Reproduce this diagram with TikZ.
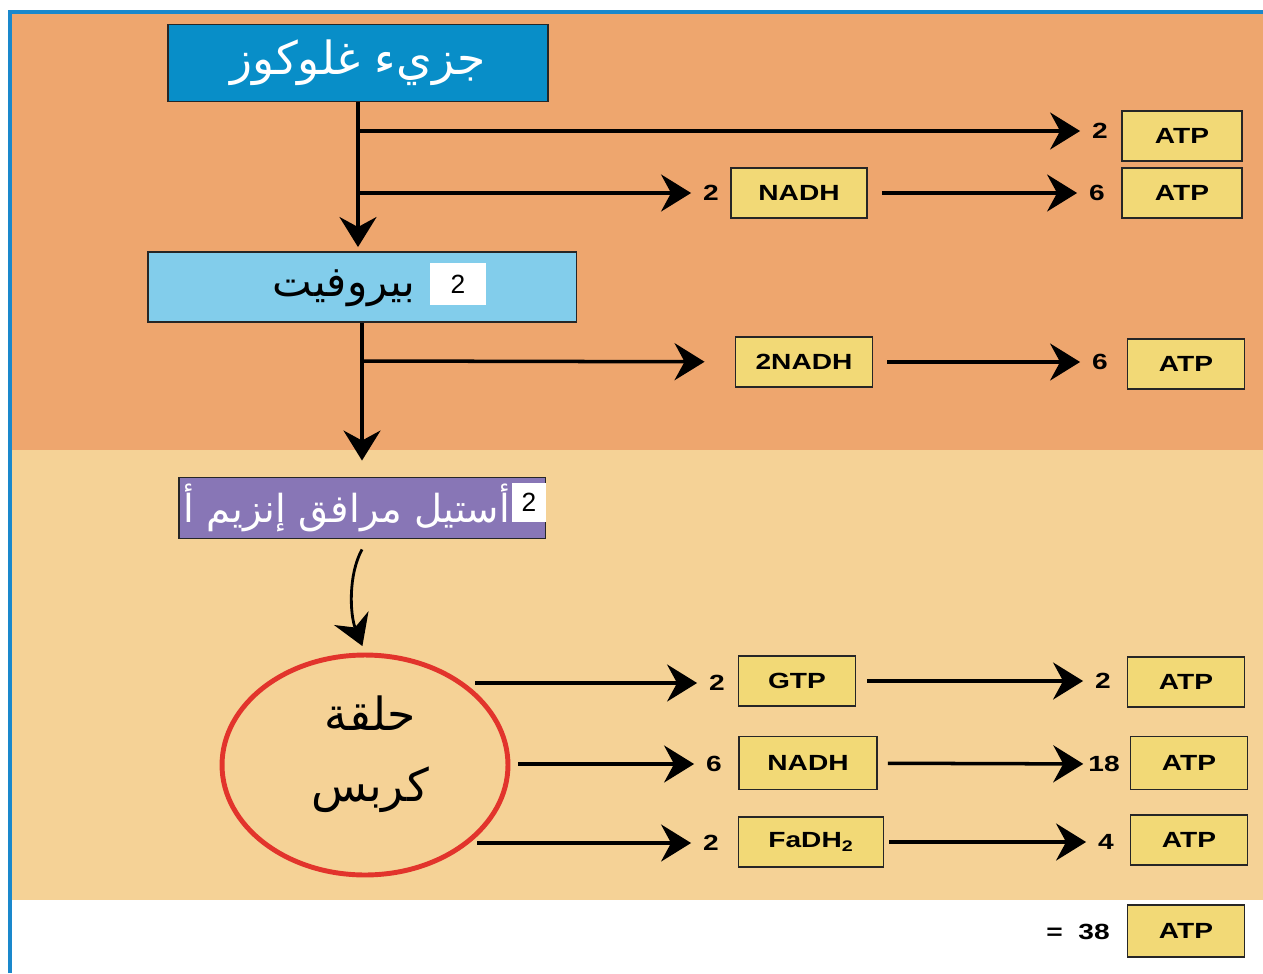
\documentclass[tikz,border=0pt]{standalone}
\usepackage{fontspec}
\setmainfont{Liberation Sans}
\newfontfamily\labelfont[FakeStretch=1.28]{Liberation Sans}
\newfontfamily\arabicfont[Script=Arabic]{DejaVu Sans}
\TeXXeTstate=1
\usetikzlibrary{arrows.meta,shapes.geometric}

\definecolor{frameblue}{RGB}{26,136,204}
\definecolor{bandorange}{RGB}{238,166,110}
\definecolor{bandcream}{RGB}{245,210,150}
\definecolor{glucoseblue}{RGB}{8,142,200}
\definecolor{pyrblue}{RGB}{130,205,235}
\definecolor{acetylviolet}{RGB}{136,118,182}
\definecolor{boxyellow}{RGB}{242,217,118}
\definecolor{krebsred}{RGB}{226,52,44}

\tikzset{
  yelbox/.style={draw=black!85, line width=1.1pt, fill=boxyellow, inner sep=0pt,
    minimum height=1cm, font=\labelfont\fontsize{12.5}{14}\selectfont\bfseries},
  num/.style={inner sep=1pt, font=\labelfont\fontsize{12.5}{14}\selectfont\bfseries},
  stage/.style={draw=black!85, line width=1.1pt, inner sep=0pt},
  flow/.style={line width=2pt, shorten >=0.2cm,
    -{Stealth[length=0.6cm, width=0.74cm, inset=0.2cm]}},
}

\begin{document}
\begin{tikzpicture}[x=0.02cm, y=-0.02cm]
  \useasboundingbox (0,0) rectangle (1263,973);
  \fill[white] (0,0) rectangle (1263,973);
  \fill[bandorange] (12,14) rectangle (1263,450);
  \fill[bandcream] (12,450) rectangle (1263,900);
  \draw[frameblue, line width=2.2pt] (10,973) -- (10,12) -- (1263,12);

  % stages
  \node[stage, fill=glucoseblue, minimum width=7.6cm, minimum height=1.54cm,
    text=white, font=\arabicfont\fontsize{26}{30}\selectfont] (glucose) at (358,63) {\beginR جزيء غلوكوز\endR};
  \node[stage, fill=pyrblue, minimum width=8.58cm, minimum height=1.4cm] (pyruvate) at (362,287) {};
  \node[font=\arabicfont\fontsize{24}{28}\selectfont] (pyruvateT) at (344,288) {\beginR بيروفيت\endR};
  \node[fill=white, minimum width=1.12cm, minimum height=0.84cm, font=\fontsize{15}{18}\selectfont] (pyruvateN) at (458,284) {2};
  \node[stage, fill=acetylviolet, minimum width=7.34cm, minimum height=1.22cm] (acetyl) at (362,508) {};
  \node[text=white, font=\arabicfont\fontsize{22}{26}\selectfont] (acetylT) at (347,508) {\beginR أستيل مرافق إنزيم أ\endR};
  \node[fill=white, minimum width=0.68cm, minimum height=0.78cm, font=\fontsize{15}{18}\selectfont] (acetylN) at (529,502) {2};
  \node[ellipse, draw=krebsred, line width=2.8pt, minimum width=5.72cm, minimum height=4.4cm] (krebs) at (365,765) {};
  \node[font=\arabicfont\fontsize{26}{30}\selectfont] (krebsA) at (370,713) {\beginR حلقة\endR};
  \node[font=\arabicfont\fontsize{26}{30}\selectfont] (krebsB) at (370,790) {\beginR كربس\endR};

  % main trunk
  \draw[flow, shorten >=0.08cm] (glucose.south) -- (glucose.south |- pyruvate.north);
  \draw[flow, shorten >=0.32cm] (pyruvate.south) -- (acetyl.north);
  \draw[flow, line width=1.6pt, shorten >=0.14cm] ([yshift=-0.2cm]acetyl.south)
    .. controls (348,575) and (350,615) .. (krebs.north);

  % glycolysis
  \coordinate (jA) at (358,131);
  \coordinate (jB) at (358,193);
  \node[num] (nA1) at (1100,131) {2};
  \node[yelbox, minimum width=2.4cm] (atpA) at (1182,136) {ATP};
  \node[num] (nB1) at (711,193) {2};
  \node[yelbox, minimum width=2.72cm] (nadhB) at (799,193) {NADH};
  \node[num] (nB2) at (1097,193) {6};
  \node[yelbox, minimum width=2.4cm] (atpB) at (1182,193) {ATP};
  \draw[flow] (jA) -- (nA1);
  \draw[flow] (jB) -- (nB1);
  \draw[flow, shorten <=0.28cm] (nadhB) -- (nB2);

  % pyruvate to acetyl
  \coordinate (jC) at (362,361);
  \node[yelbox, minimum width=2.74cm] (nadhC) at (804,362) {2NADH};
  \node[num] (nC2) at (1100,362) {6};
  \node[yelbox, minimum width=2.34cm] (atpC) at (1186,364) {ATP};
  \draw[flow, shorten >=0.6cm] (jC) -- (nadhC);
  \draw[flow, shorten <=0.28cm] (nadhC) -- (nC2);

  % krebs cycle
  \coordinate (kD) at (475,683);
  \coordinate (kE) at (518,764);
  \coordinate (kF) at (477,843);
  \node[num] (nD1) at (717,683) {2};
  \node[yelbox, minimum width=2.34cm] (gtpD) at (797,681) {GTP};
  \node[num] (nD2) at (1103,681) {2};
  \node[yelbox, minimum width=2.34cm] (atpD) at (1186,682) {ATP};
  \node[num] (nE1) at (714,764) {6};
  \node[yelbox, minimum width=2.76cm, minimum height=1.06cm] (nadhE) at (808,763) {NADH};
  \node[num] (nE2) at (1104,764) {18};
  \node[yelbox, minimum width=2.34cm, minimum height=1.06cm] (atpE) at (1189,763) {ATP};
  \node[num] (nF1) at (711,843) {2};
  \node[yelbox, minimum width=2.9cm] (fadhF) at (811,842) {FaDH\textsubscript{2}};
  \node[num] (nF2) at (1106,842) {4};
  \node[yelbox, minimum width=2.34cm] (atpF) at (1189,840) {ATP};
  \draw[flow] (kD) -- (nD1);
  \draw[flow, shorten <=0.22cm] (gtpD) -- (nD2);
  \draw[flow] (kE) -- (nE1);
  \draw[flow, shorten <=0.2cm, shorten >=0.06cm] (nadhE) -- (nE2);
  \draw[flow] (kF) -- (nF1);
  \draw[flow, shorten <=0.1cm] (fadhF) -- (nF2);

  % total
  \node[num] (total) at (1078,932) {=\ \ 38};
  \node[yelbox, minimum width=2.34cm, minimum height=1.04cm] (atpT) at (1186,931) {ATP};
\end{tikzpicture}
\end{document}
